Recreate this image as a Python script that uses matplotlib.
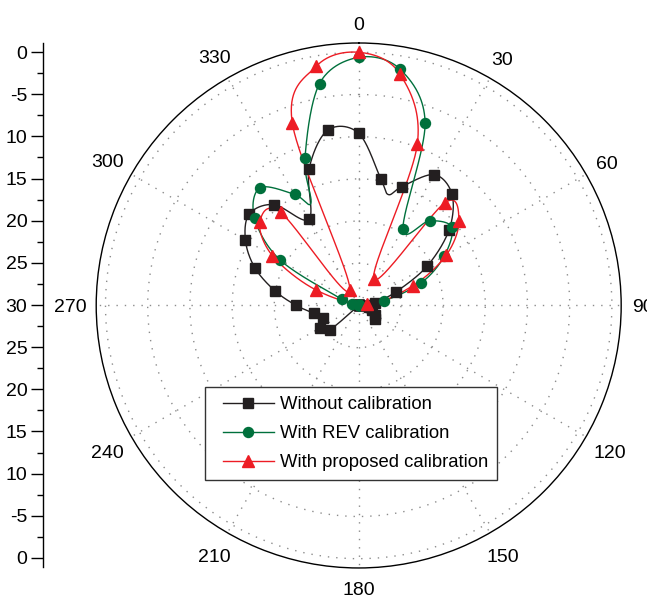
import numpy as np
import matplotlib
matplotlib.use("Agg")
import matplotlib.pyplot as plt
from matplotlib.lines import Line2D
from matplotlib.legend_handler import HandlerLine2D

plt.rcParams['font.family'] = ['Liberation Sans', 'DejaVu Sans']

R_MIN, R_MAX = -30, 1.1

# measured patterns, angle in degrees (clockwise from top), gain in dB
# points at 15 / 335 deg are extra curve samples without a marker
black_ang = [0, 10, 15, 20, 30, 40, 50, 60, 70, 80, 90, 100, 110, 120, 130,
             140, 150, 160, 170, 180, 190, 200, 210, 220, 230, 240, 250, 260,
             270, 280, 290, 300, 310, 320, 330, 340, 350]
black_db = [-9.6, -14.8, -16.4, -15.0, -12.1, -12.8, -16.0, -20.6, -25.3, -28.0,
            -28.5, -28.8, -28.3, -27.8, -27.5,
            -30, -30, -30, -30, -30, -30, -30, -30, -30,
            -25.5, -24.7, -25.5, -24.6, -22.6, -19.9, -16.9, -14.5, -13.1,
            -14.4, -18.2, -12.8, -8.9]

green_ang = [0, 10, 20, 30, 40, 50, 60, 70, 80, 90, 100, 110, 120, 130, 140,
             150, 160, 170, 180, 190, 200, 210, 220, 230, 240, 250, 260, 270,
             280, 290, 300, 310, 320, 330, 335, 340, 350]
green_db = [-0.6, -1.6, -7.0, -19.5, -16.9, -15.6, -18.3, -22.1, -27.0,
            -30, -30, -30, -30, -30, -30, -30, -30, -30, -30, -30, -30, -30,
            -30, -30, -30, -30, -30, -30,
            -29.2, -27.9, -19.3, -13.9, -11.8, -14.8, -16.6, -11.4, -3.3]

red_ang = [290, 300, 310, 320, 330, 340, 350, 0, 10, 20, 30, 40, 50, 60, 70, 80]
red_db = [-24.6, -18.2, -14.7, -15.6, -27.9, -7.0, -1.2, 0.0, -2.1, -9.7,
          -26.4, -14.1, -14.5, -18.0, -23.2, -29.0]

theta_ticks = list(range(0, 360, 30))
left_ticks = [30, 25, 20, 15, 10, 5, 0, -5, -10, -15, -20, -25, -30]
left_labels = ['0', '-5', '10', '15', '20', '25', '30', '25', '20', '15', '10', '-5', '0']

series = [
    ('Without calibration', black_ang, black_db, '#231f20', 's', 6.8),
    ('With REV calibration', green_ang, green_db, '#00703c', 'o', 7.2),
    ('With proposed calibration', red_ang, red_db, '#ed1c24', '^', 8.0),
]


def smooth_loop(ang, db, n=40):
    # closed Catmull-Rom spline through the points, built in the plane
    t = np.radians(ang)
    rho = np.clip(np.asarray(db, float) - R_MIN, 0, None)
    P = np.column_stack([rho * np.cos(t), rho * np.sin(t)])
    k = len(P)
    s = np.linspace(0, 1, n, endpoint=False)[:, None]
    h00 = 2 * s**3 - 3 * s**2 + 1
    h10 = s**3 - 2 * s**2 + s
    h01 = -2 * s**3 + 3 * s**2
    h11 = s**3 - s**2
    segs = []
    for i in range(k):
        p0, p1, p2, p3 = P[i - 1], P[i], P[(i + 1) % k], P[(i + 2) % k]
        m1 = (p2 - p0) / 2
        m2 = (p3 - p1) / 2
        segs.append(h00 * p1 + h10 * m1 + h01 * p2 + h11 * m2)
    segs.append(P[:1])
    xy = np.vstack(segs)
    return np.arctan2(xy[:, 1], xy[:, 0]), np.hypot(xy[:, 0], xy[:, 1]) + R_MIN


fig = plt.figure(figsize=(6.47, 5.96), dpi=100)
ax = fig.add_axes([0.1487, 0.047, 0.8114, 0.8809], projection='polar')
ax.set_theta_zero_location('N')
ax.set_theta_direction(-1)
ax.set_ylim(R_MIN, R_MAX)

ax.set_yticks([-25, -20, -15, -10, -5, 0])
ax.set_yticklabels([])
ax.set_xticks(np.radians(theta_ticks))
ax.set_xticklabels([])
ax.set_xticks(np.radians(np.arange(15, 360, 30)), minor=True)
ax.grid(True, linestyle=(0, (1, 5)), color='#8c8c8c', linewidth=1.0)
ax.tick_params(axis='x', which='major', direction='in', length=7, width=1)
ax.tick_params(axis='x', which='minor', direction='in', length=4, width=1)
ax.tick_params(axis='y', length=0)
ax.spines['polar'].set_linewidth(1.0)

# angle labels: text box kept a fixed gap away from the frame
fs_px = 14 * 100 / 72
for a in theta_ticks:
    lab = str(a)
    t = np.radians(a)
    hw = 0.5 * len(lab) * 0.556 * fs_px
    hh = 0.5 * 0.716 * fs_px
    d = 13 + 0.8 * abs(hw * np.sin(t)) + abs(hh * np.cos(t))
    ax.annotate(lab, xy=(t, R_MAX), xytext=(d * np.sin(t), d * np.cos(t) - hh),
                textcoords='offset pixels', ha='center', va='baseline',
                fontsize=14, annotation_clip=False)

handles = []
for name, ang, db, col, mk, ms in series:
    th, rr = smooth_loop(ang, db)
    ax.plot(th, rr, color=col, lw=1.0, zorder=3)
    a = np.asarray(ang)
    keep = a % 10 == 0
    ax.plot(np.radians(a[keep]), np.clip(np.asarray(db)[keep], R_MIN, None),
            linestyle='none', marker=mk, markersize=ms, color=col,
            markeredgecolor=col, zorder=4, clip_on=False)
    handles.append(Line2D([], [], color=col, lw=1.0, marker=mk, markersize=ms,
                          markeredgecolor=col, label=name))

leg = fig.legend(handles=handles, loc='upper left',
                 bbox_to_anchor=(205 / 647, 1 - 387 / 596),
                 bbox_transform=fig.transFigure, fontsize=13.3,
                 frameon=True, fancybox=False, framealpha=1, edgecolor='#333333',
                 borderpad=0.51, borderaxespad=0, handlelength=3.22,
                 handletextpad=0.32, labelspacing=0.64, numpoints=1,
                 handler_map={h: HandlerLine2D(xpad=0.46) for h in handles})
leg.get_frame().set_linewidth(1.0)

# straight gain scale on the left
lax = fig.add_axes([43.3 / 647, 29 / 596, 0.0001, 524 / 596])
lax.set_ylim(-31.07, 31.07)
lax.set_xticks([])
lax.set_yticks(left_ticks)
lax.set_yticklabels(left_labels)
lax.set_yticks(np.arange(-27.5, 30, 5), minor=True)
for side in ('top', 'right', 'bottom'):
    lax.spines[side].set_visible(False)
lax.spines['left'].set_linewidth(1.0)
lax.patch.set_visible(False)
lax.tick_params(axis='y', which='major', direction='out', length=9, width=1,
                pad=2.4, labelsize=14)
lax.tick_params(axis='y', which='minor', direction='out', length=4, width=1)

fig.savefig('out.png', dpi=100)
